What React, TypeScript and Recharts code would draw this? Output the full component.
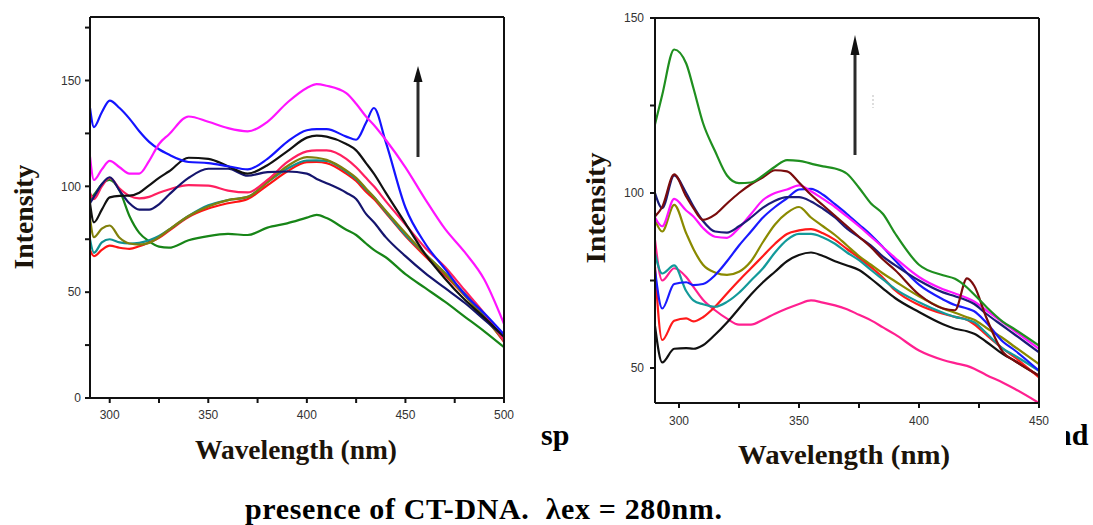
import React from "react";
import { Line, LineChart, XAxis, YAxis } from "recharts";

// ---- left panel: 290–500 nm ----
const LEFT_NM = [290, 292, 296, 300, 305, 310, 315, 320, 325, 330, 340, 350, 360, 370, 380, 390, 400, 405, 410, 420, 425, 430, 434, 440, 450, 460, 470, 480, 490, 500];

const L_GREEN = [94, 96, 101, 103, 98, 86, 78, 74, 71.5, 71, 74.5, 76.5, 77.5, 77, 80.5, 82.5, 85.2, 86.5, 85, 79.5, 77, 73, 70, 66.5, 58.5, 52, 45.5, 38.5, 31.5, 24];
const L_RED = [70, 67, 70, 72, 71, 70.5, 71.7, 73.5, 75.7, 79, 85.5, 89.5, 92, 94, 100.5, 107, 111.4, 111.5, 111, 106, 102.5, 97.5, 94, 87.5, 76.5, 67, 58, 48.5, 38.5, 26.5];
const L_TEAL = [75, 68.6, 73.5, 75, 73.5, 73, 73.3, 74.5, 76.5, 79.5, 86, 91, 93.5, 95, 102, 108.3, 112.2, 112.3, 112, 107, 103.5, 98.5, 95, 88, 77, 68, 59, 49.5, 39.5, 27];
const L_OLIVE = [85, 76, 80, 81.5, 75.7, 73, 72.5, 73.3, 76, 79.5, 86, 90.5, 93.5, 95, 102, 109.5, 113.8, 113.5, 112.5, 107.5, 104, 99, 95, 88.5, 78, 68, 59, 48.5, 38, 27];
const L_CRIMSON = [97, 94, 100, 104, 99, 95.5, 94.3, 95, 97, 98.5, 100.6, 100.3, 98, 97.1, 103, 111.4, 116.5, 117, 117, 113, 109, 104, 100, 93, 82, 71, 62, 51, 40, 27];
const L_NAVY = [92, 95, 101, 104.3, 98, 92, 89, 89, 91.5, 96, 104, 108.3, 108.3, 105, 106.7, 107, 106, 103.5, 101.5, 97, 94, 87, 83, 76, 67, 59, 52, 45, 37, 29];
const L_BLACK = [92, 83, 89, 94.8, 95.5, 95.6, 97, 100.5, 104, 107, 113.5, 113, 109.5, 106, 110, 116.5, 123, 124, 123.5, 120, 117, 111, 106, 97, 82.5, 68, 56.5, 46.5, 38, 29];
const L_BLUE = [137, 128, 135, 140.5, 137, 132, 126, 121, 117.5, 115, 111.5, 111, 109.5, 108, 113, 121, 126.5, 127, 127, 123.5, 122, 130, 137, 121, 90, 73, 61, 49, 40, 30];
const L_MAGENTA = [114, 103, 108, 112, 109, 106, 106, 112, 120, 124.5, 133, 130.5, 127.5, 126, 130.5, 139.5, 146.5, 148.3, 147.5, 144, 139, 133, 129, 122, 109, 94, 80, 69, 56, 35];

const LEFT_X_TICKS = [300, 325, 350, 375, 400, 425, 450, 475, 500];
const LEFT_Y_TICKS = [0, 25, 50, 75, 100, 125, 150, 175];
const LEFT_TOP_TICKS = [312, 332, 354, 375, 396, 417, 438, 459, 480];
const LEFT_RIGHT_TICKS = [18, 36, 54, 72, 90, 108, 126, 144, 162];

// ---- right panel: 290–450 nm ----
const RIGHT_NM = [290, 293, 298, 303, 306, 310, 315, 320, 325, 330, 335, 340, 345, 350, 355, 360, 365, 370, 375, 380, 385, 390, 400, 410, 415, 420, 423, 428, 435, 440, 450];

const R_PINK = [86.6, 75, 78.5, 76, 73.2, 69.5, 66.5, 64.1, 62.4, 62.4, 63.8, 65.5, 67, 68.3, 69.3, 68.7, 67.9, 66.8, 65.2, 63.6, 61.6, 59.6, 55, 52.3, 51.4, 50.6, 49.8, 48, 45.8, 44, 40];
const R_BLACK = [62, 51.6, 55.5, 55.7, 55.5, 56.5, 59.5, 63, 67, 71, 74.5, 77.5, 80.5, 82.3, 83, 82, 80.5, 79.3, 78, 75.5, 72.7, 70, 66, 62.5, 61.2, 60.5, 59.8, 57.5, 54, 52, 47.8];
const R_RED = [78.9, 58, 63.5, 64.2, 63.3, 64.5, 67.5, 71.3, 75, 78.5, 82, 85.5, 88.3, 89.3, 89.7, 88.5, 86.6, 84, 81.5, 78.8, 75.8, 72.2, 68, 65.5, 64.6, 63.8, 62.5, 59.5, 55.5, 53, 47.3];
const R_TEAL = [82.8, 77, 79.3, 72, 69.3, 68.2, 67.5, 68.9, 71.5, 75, 78.5, 83, 86.6, 88.3, 88.3, 87.3, 85.5, 83, 80.8, 78, 75.3, 72.6, 68.8, 65.8, 64.6, 63.8, 63.1, 60, 55.5, 53.5, 49.2];
const R_OLIVE = [92.3, 89, 96.6, 88.5, 84, 79.5, 77.3, 76.6, 77.5, 80.5, 86, 91, 94.3, 96, 93, 90.5, 88, 85, 82, 79.5, 77, 74.8, 70.5, 67, 65.8, 64.5, 63.8, 61.5, 58.5, 56, 51.1];
const R_BLUE = [78, 67, 74, 74.5, 73.7, 74, 76.5, 80.5, 85, 89, 93, 96, 98.5, 101, 101.2, 99.5, 96.8, 94, 91, 88, 84.5, 80.8, 73.8, 69.6, 68, 67, 66.2, 63, 57.5, 55, 49.2];
const R_MAGENTA = [93, 90.5, 98.3, 95, 93.3, 90, 87.5, 87.2, 90, 94, 98, 100, 101, 102.2, 100.5, 98.3, 96, 93.3, 90.5, 87.5, 84.5, 81.5, 76, 72.5, 71.3, 70, 69, 66.5, 63, 60.5, 55.5];
const R_NAVY = [100, 95.7, 105, 100, 96.2, 92, 89, 88.7, 90.5, 93, 95.8, 97.8, 98.8, 98.8, 97.6, 95.5, 93, 89.8, 87.4, 85, 81.8, 79.4, 75, 71.6, 70.5, 69.3, 68.3, 65.5, 62, 59.5, 54.5];
const R_BROWN = [93.3, 96, 105.3, 99, 95.7, 92.3, 93.8, 97, 100, 102.5, 104.5, 106.5, 106.2, 103, 99.5, 96.5, 93.5, 90.5, 87.5, 84.5, 81, 78, 71, 67, 66.5, 75.6, 73.5, 64.5, 54.5, 52, 47.8];
const R_GREEN = [119.6, 128, 141, 137, 130, 120, 112, 105, 102.8, 103, 105, 107.5, 109.4, 109.2, 108.4, 107.6, 107, 105.5, 101.5, 97, 94, 88.5, 79.5, 76.5, 75.5, 73, 71, 67.5, 63.2, 61, 56.4];

const RIGHT_X_TICKS = [300, 325, 350, 375, 400, 425, 450];
const RIGHT_Y_TICKS = [50, 75, 100, 125, 150];
const RIGHT_TOP_TICKS = [306, 322, 339, 355, 370, 388, 404, 418, 434];
const RIGHT_RIGHT_TICKS = [51, 62, 73, 84, 95, 106, 117, 128, 139];

interface Series {
  key: string;
  color: string;
  values: number[];
}

const LEFT_SERIES: Series[] = [
  { key: "green", color: "#178517", values: L_GREEN },
  { key: "red", color: "#ff1414", values: L_RED },
  { key: "teal", color: "#109090", values: L_TEAL },
  { key: "olive", color: "#80800c", values: L_OLIVE },
  { key: "crimson", color: "#ff2060", values: L_CRIMSON },
  { key: "navy", color: "#15156e", values: L_NAVY },
  { key: "black", color: "#111111", values: L_BLACK },
  { key: "blue", color: "#1414ff", values: L_BLUE },
  { key: "magenta", color: "#ff14ff", values: L_MAGENTA },
];

const RIGHT_SERIES: Series[] = [
  { key: "pink", color: "#ff2090", values: R_PINK },
  { key: "black", color: "#111111", values: R_BLACK },
  { key: "red", color: "#ff1a1a", values: R_RED },
  { key: "teal", color: "#139a9a", values: R_TEAL },
  { key: "olive", color: "#8a8a00", values: R_OLIVE },
  { key: "blue", color: "#1a1aff", values: R_BLUE },
  { key: "magenta", color: "#ff14ff", values: R_MAGENTA },
  { key: "navy", color: "#1c1c78", values: R_NAVY },
  { key: "brown", color: "#7a0c0c", values: R_BROWN },
  { key: "green", color: "#1f8f1f", values: R_GREEN },
];

function buildRows(nm: number[], series: Series[]) {
  return nm.map((x, i) => {
    const row: Record<string, number> = { nm: x };
    series.forEach((s) => (row[s.key] = s.values[i]));
    return row;
  });
}

const AXIS = { stroke: "#111", strokeWidth: 2 };
const TICK_TEXT = { fill: "#333", fontSize: 12, fontFamily: "'Liberation Sans Narrow', 'Liberation Sans', Arial, sans-serif" };
const onlyFifties = (v: number) => (v % 50 === 0 ? String(v) : "");

interface PanelProps {
  nm: number[];
  series: Series[];
  width: number;
  height: number;
  margin: { top: number; right: number; bottom: number; left: number };
  xDomain: [number, number];
  yDomain: [number, number];
  xTicks: number[];
  yTicks: number[];
  topTicks: number[];
  rightTicks: number[];
  xTickMargin: number;
  yTickMargin: number;
}

function SpectrumPanel(p: PanelProps) {
  const rows = buildRows(p.nm, p.series);
  return (
    <LineChart width={p.width} height={p.height} data={rows} margin={p.margin}>
      <XAxis
        xAxisId="bottom"
        dataKey="nm"
        orientation="bottom"
        type="number"
        domain={p.xDomain}
        ticks={p.xTicks}
        interval={0}
        tickFormatter={onlyFifties}
        tick={TICK_TEXT}
        tickSize={5}
        tickMargin={p.xTickMargin}
        height={25}
        axisLine={AXIS}
        tickLine={AXIS}
        allowDataOverflow
      />
      {/* top and right edges of the frame, ticks pointing inwards */}
      <XAxis
        xAxisId="top"
        dataKey="nm"
        orientation="top"
        type="number"
        domain={p.xDomain}
        ticks={p.topTicks}
        interval={0}
        tick={false}
        tickSize={4}
        mirror
        height={1}
        axisLine={AXIS}
        tickLine={{ stroke: "#333" }}
        allowDataOverflow
      />
      <YAxis
        yAxisId="left"
        type="number"
        domain={p.yDomain}
        ticks={p.yTicks}
        interval={0}
        tickFormatter={onlyFifties}
        tick={TICK_TEXT}
        tickSize={5}
        tickMargin={p.yTickMargin}
        width={50}
        axisLine={AXIS}
        tickLine={AXIS}
        allowDataOverflow
      />
      <YAxis
        yAxisId="right"
        orientation="right"
        type="number"
        domain={p.yDomain}
        ticks={p.rightTicks}
        interval={0}
        tick={false}
        tickSize={4}
        mirror
        width={1}
        axisLine={AXIS}
        tickLine={{ stroke: "#333" }}
        allowDataOverflow
      />
      {p.series.map((s) => (
        <Line
          key={s.key}
          xAxisId="bottom"
          yAxisId="left"
          dataKey={s.key}
          type="monotone"
          stroke={s.color}
          strokeWidth={2.2}
          dot={false}
          activeDot={false}
          isAnimationActive={false}
        />
      ))}
    </LineChart>
  );
}

const SERIF = "'Liberation Serif', 'Times New Roman', serif";
const TITLE_INK = "#1c140a";

function UpArrow({ x, top, bottom, head }: { x: number; top: number; bottom: number; head: number }) {
  return (
    <g>
      <line x1={x} y1={bottom} x2={x} y2={top + head - 2} stroke="#2a2a2a" strokeWidth={3} />
      <polygon points={`${x - 4.5},${top + head} ${x},${top} ${x + 4.5},${top + head}`} fill="#111" />
    </g>
  );
}

export default function App() {
  const layer: React.CSSProperties = { position: "absolute", left: 0, top: 0 };
  return (
    <div style={{ position: "absolute", left: 0, top: 0, width: 1093, height: 525, background: "#fff", overflow: "hidden" }}>
      {/* caption text sitting behind the two figures */}
      <svg width={1093} height={525} style={layer}>
        <g fontFamily={SERIF} fontWeight="bold" fill="#000">
          <text x={541} y={445} fontSize={30}>sp</text>
          <text x={1055} y={445} fontSize={30}>nd</text>
          <text x={245} y={519} fontSize={30} xmlSpace="preserve" style={{ whiteSpace: "pre" }} textLength={477} lengthAdjust="spacing">
            {"presence of CT-DNA.  λex = 280nm."}
          </text>
        </g>
      </svg>

      <div style={{ position: "absolute", left: 0, top: 0, width: 530, height: 470, background: "#fff" }}>
        <SpectrumPanel
          nm={LEFT_NM}
          series={LEFT_SERIES}
          width={520}
          height={431}
          margin={{ top: 17, right: 16, bottom: 8, left: 40 }}
          xDomain={[290, 500]}
          yDomain={[0, 180]}
          xTicks={LEFT_X_TICKS}
          yTicks={LEFT_Y_TICKS}
          topTicks={LEFT_TOP_TICKS}
          rightTicks={LEFT_RIGHT_TICKS}
          xTickMargin={7}
          yTickMargin={4}
        />
      </div>

      <div style={{ position: "absolute", left: 578, top: 0, width: 488, height: 478, background: "#fff" }}>
        <SpectrumPanel
          nm={RIGHT_NM}
          series={RIGHT_SERIES}
          width={484}
          height={441}
          margin={{ top: 18, right: 23, bottom: 13, left: 27 }}
          xDomain={[290, 450]}
          yDomain={[40, 150]}
          xTicks={RIGHT_X_TICKS}
          yTicks={RIGHT_Y_TICKS}
          topTicks={RIGHT_TOP_TICKS}
          rightTicks={RIGHT_RIGHT_TICKS}
          xTickMargin={8}
          yTickMargin={6}
        />
      </div>

      {/* axis titles and arrows */}
      <svg width={1093} height={525} style={{ ...layer, pointerEvents: "none" }}>
        <g fontFamily={SERIF} fontWeight="bold" fill={TITLE_INK} textAnchor="middle">
          <text x={296} y={459} fontSize={27} textLength={202} lengthAdjust="spacingAndGlyphs">Wavelength (nm)</text>
          <text x={844} y={464} fontSize={28} textLength={212} lengthAdjust="spacingAndGlyphs">Wavelength (nm)</text>
          <text transform="translate(33,217) rotate(-90)" fontSize={27} textLength={105} lengthAdjust="spacingAndGlyphs">Intensity</text>
          <text transform="translate(605,208) rotate(-90)" fontSize={28} textLength={111} lengthAdjust="spacingAndGlyphs">Intensity</text>
        </g>
        <UpArrow x={418} top={66} bottom={157} head={16} />
        <UpArrow x={855} top={35} bottom={155} head={20} />
        <line x1={873} y1={95} x2={873} y2={108} stroke="#bbb" strokeWidth={1} strokeDasharray="2 2" />
      </svg>
    </div>
  );
}
